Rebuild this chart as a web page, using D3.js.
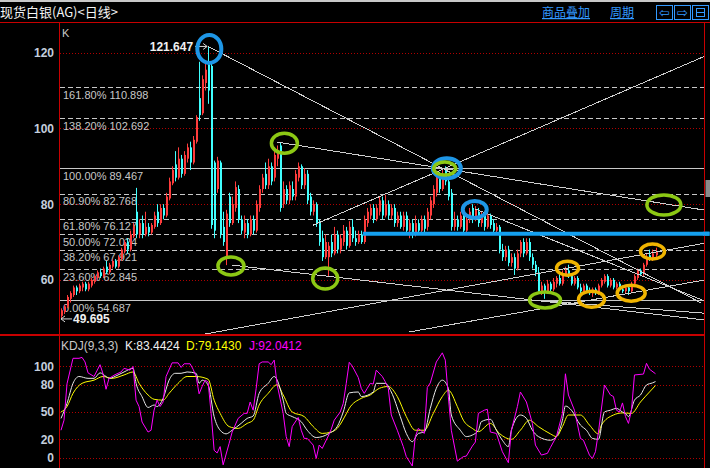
<!DOCTYPE html>
<html>
<head>
<meta charset="utf-8">
<script src="https://cdn.jsdelivr.net/npm/d3@7"></script>
<style>
  body { margin: 0; background: #000; overflow: hidden; }
  svg { display: block; }
</style>
</head>
<body>
<svg id="chart"></svg>
<script>
// daily candles
var opens = [
  50.5, 51.5, 53, 55, 56, 58, 57, 58, 59, 57.5,
  58.5, 59.5, 60.5, 62, 61, 63.5, 62, 63.5, 65, 63.5,
  65.5, 67.5, 70, 68, 71.5, 78, 72, 75, 72, 74,
  72.5, 74, 78, 75, 79, 77, 81.5, 85.5, 90.5, 87,
  92, 88, 92, 95, 91, 96.5, 108, 104, 112, 117,
  116.5, 91, 84, 91, 74, 66, 82, 75, 79, 84,
  76, 72.5, 75, 72, 76, 73, 79, 84, 88, 85,
  90, 87, 92, 95.5, 80, 84, 81, 84, 82, 87,
  90, 85, 88, 82, 78, 80, 75, 71, 66, 66,
  70, 67, 72, 68, 70, 73, 69, 74, 71, 70,
  72, 70, 75, 77, 79, 76, 78, 81, 77, 80,
  77, 79, 75, 77, 74, 77, 73, 75, 72, 75,
  73, 76, 74, 77, 80, 83, 87, 84, 89, 86,
  83, 74, 76, 74, 77, 73, 76, 79, 76, 78,
  75, 77, 74, 77, 75, 73, 74, 68, 66, 68,
  64.5, 66, 63, 67, 70, 67, 70, 66, 64, 62,
  57, 58.5, 57, 59, 57.5, 59, 60.5, 59, 61.5, 62.5,
  61, 59, 60.5, 58, 57, 58.5, 57, 56.5, 57.5, 56.5,
  58.5, 59.5, 61, 58.5, 60, 58, 59, 57.5, 57, 58,
  57, 59, 60.5, 62.5, 61.5, 64, 66.5, 65.5, 66.5
]
var highs = [
  52.5, 53.5, 56, 57, 58.5, 58.5, 59, 59.5, 59.5, 59.5,
  60.5, 61.5, 62.5, 63, 63.5, 65, 64.5, 65.5, 65.5, 66.5,
  68.5, 70.5, 71, 73, 75, 84.3, 76, 77, 78, 75,
  75, 78, 80, 80, 80, 83, 87, 90, 94, 95,
  93, 94, 96, 96.5, 98, 103.5, 117.6, 114, 117, 121.647,
  117, 91.5, 92.5, 91.5, 78, 78.5, 83, 82, 86, 85,
  77, 77, 76, 77, 77, 81, 85, 88, 91, 92,
  91, 95, 95.5, 96.4, 86, 85, 86, 86, 89, 91,
  90.5, 89.5, 89, 83, 81, 80.5, 76, 73, 72, 70,
  72, 74, 73, 72, 74.5, 74, 75.5, 76, 73, 73,
  73, 77, 79, 80, 80, 80, 82, 82, 82.5, 81,
  80, 80, 78, 78, 78, 78, 76, 76, 77, 76,
  77, 77, 79, 82, 85, 88, 88.5, 89.5, 90, 87,
  84, 78, 77, 78, 77.5, 77, 79, 80, 79.5, 79,
  78, 78, 78, 77.5, 76, 75, 74.5, 69.5, 69, 69,
  67, 67, 68, 70.5, 71, 71, 71, 67, 65, 63.4,
  59.5, 59, 60, 59.5, 60.5, 61, 61.5, 62.5, 63.5, 64,
  61.5, 61, 61, 59, 59, 59, 58, 58, 58, 59,
  60.5, 61.5, 61.5, 60.5, 60.5, 59.5, 59.5, 58.5, 58.5, 58.5,
  59.5, 61.5, 63, 63, 64.5, 67, 68, 68, 68.5
]
var lows = [
  49.695, 51, 52.5, 54, 55.5, 56, 56.5, 57, 57, 57,
  58, 59, 60, 60.5, 60.5, 61.5, 61.5, 63, 63, 63,
  65, 67, 67, 67.5, 71, 71, 71, 71, 71.5, 71.5,
  72, 73.5, 74, 74.5, 76, 76.5, 81, 85, 86, 86.5,
  87, 87.5, 91, 89, 90.5, 96, 102, 103.5, 110, 106.5,
  73.5, 71, 83, 71, 69, 63.9, 74, 74.5, 78, 75,
  72, 71, 71, 71.5, 72, 72.5, 78, 83, 84, 84,
  85, 86, 90, 78, 79, 80, 80, 81, 81, 86,
  84, 84, 80, 77, 77, 74, 69, 65, 65.5, 60.8,
  66, 66.5, 67, 67, 69, 68, 68.5, 70, 69, 69.5,
  69.5, 69.5, 74, 76, 75, 75.5, 77, 76, 76.5, 76,
  76, 74, 74, 73.5, 73, 72, 71, 71, 71.5, 72,
  72.5, 72.5, 73, 76, 79, 82, 83, 83.5, 85, 81,
  73, 73, 73, 73.5, 72.5, 72.5, 75, 75, 75.5, 74,
  74, 73, 73.5, 73.5, 72, 72, 67, 65, 65, 63.6,
  63.5, 61.3, 62.5, 66, 66, 66.5, 65, 63, 61, 56.5,
  56, 55, 56.5, 56.5, 57, 58, 58.5, 58.5, 61, 60.5,
  58.5, 58.5, 57.5, 56.5, 56.5, 56.5, 56, 55.5, 56, 56,
  58, 59, 58, 58, 57.5, 57.5, 57, 56.5, 56.5, 56,
  56.5, 58.5, 60, 61, 61, 63.5, 65, 65, 66
]
var closes = [
  52, 53, 55.5, 56.5, 58, 57, 58.5, 59, 57.5, 59,
  60, 61, 62, 61, 63, 62, 64, 65, 63.5, 66,
  68, 70, 68, 72, 74, 72, 75, 72, 74, 72.5,
  74.5, 77, 75, 79, 77, 82, 86, 89, 87, 92,
  88, 93, 95, 91, 97, 103, 103.5, 113, 115.5, 110,
  74.5, 73, 91.5, 72, 70, 77.5, 75, 80, 84.5, 76,
  73, 75, 72, 76, 73, 80, 84, 87, 85, 90,
  86, 93, 94, 79, 84, 81, 85, 82, 88, 90,
  85, 88, 81, 78, 80, 75, 70, 66, 70, 69,
  67, 72, 68, 71, 73, 69, 74, 71, 70, 72,
  70, 76, 78, 79, 76, 79, 81, 77, 80, 77,
  79, 75, 77, 74, 77, 73, 75, 72, 75, 73,
  76, 73.5, 78, 81, 84, 87, 84, 88, 86, 82,
  74, 76, 74, 77, 73, 76, 78, 76, 78.5, 75,
  77, 74, 77, 74.5, 73, 74, 68, 66, 68, 64.5,
  66, 63, 67, 70, 67, 70, 66, 64, 62, 57,
  58.5, 57, 59, 57.5, 59.5, 60.5, 59, 61.5, 62.5, 61,
  59, 60.5, 58, 57, 58.5, 57, 56.5, 57.5, 56.5, 58.5,
  60, 61, 58.5, 60, 58, 59, 57.5, 57, 58, 57,
  59, 61, 62.5, 61.5, 64, 66, 65.5, 67, 67.5
]

var kPoints = [[0,43],[2,59.5],[4,81.5],[6,89],[9,87],[11,87],[13,93],[15,89],[16,87],[19,90.7],
  [21,94],[24,98],[25,81.5],[27,66.8],[29,55],[31,57.7],[32,56],[34,65],[36,85],[38,92.5],
  [40,92.5],[42,94],[45,92.5],[46,81.5],[47,85],[49,79.7],[51,45],[53,30],[55,26],[57,30],
  [60,37.5],[62,43],[64,45.6],[66,70.5],[69,81.5],[71,89],[74,63],[75,48.5],[77,45],[80,39.4],
  [82,30],[85,22],[87,23],[89,26],[92,34],[94,50],[96,71],[99,72],[100,67],[104,72],
  [105,81.5],[108,81.5],[110,72],[113,45],[115,26.5],[117,17.4],[119,26.5],[121,28],[123,54],[125,76],
  [127,85],[129,76],[130,46.7],[133,30],[135,23],[137,24.7],[139,30],[140,39.4],[143,42],[145,30],
  [147,19],[149,12],[150,30],[153,46.7],[155,43],[157,30],[159,23],[163,19],[165,23],[167,41],
  [168,56.6],[170,52],[173,35.7],[175,30],[177,21],[179,20],[181,50],[183,52],[185,54],[187,50],
  [188,48.5],[189,45],[191,63],[193,68.7],[195,79.7],[197,82],[198,83.44]]
var dPoints = [[0,50],[2,56],[4,70.5],[7,81.5],[11,85],[14,89],[17,87],[21,90.7],[24,94],[26,81.5],
  [29,68.7],[31,64],[34,63],[36,70.5],[39,81.5],[42,89],[45,89],[49,86],[51,63],[53,48.5],
  [56,34],[59,32],[62,37.5],[64,41],[66,57.7],[69,70.5],[72,80],[74,68.7],[77,50],[81,45],
  [84,34],[87,26.5],[90,28],[92,32],[95,48],[96,54],[100,65],[103,68.7],[106,76],[109,78],
  [112,67],[115,45],[118,30],[121,30],[124,48.5],[127,67],[129,74],[132,56],[134,41],[137,32],
  [139,28.4],[143,37.5],[146,26.5],[150,20],[153,30],[156,41],[159,34],[163,26],[165,23],[167,34],
  [169,46.7],[173,46.7],[176,35.7],[179,26],[180,35.7],[184,46.7],[187,49],[190,48.5],[193,61],[196,72],
  [198,79.14]]
var jPoints = [[0,30],[1,41],[2,81],[4,109],[6,109],[7,110],[8,105],[9,93],[11,89],[13,102],
  [14,92],[15,75],[16,87],[18,91],[20,94],[21,98],[23,96],[24,100],[25,63],[26,56],
  [27,39],[29,28],[30,30],[31,52],[32,63],[33,56],[34,61],[35,89],[37,104],[39,104],
  [40,99],[41,103],[43,103],[44,97],[45,89],[46,70],[47,78],[48,85],[49,83],[50,48.5],
  [51,8],[52,5],[53,12],[54,-8],[56,15.6],[57,28],[59,43],[61,48.5],[62,48.5],[63,61],
  [64,52],[65,76],[66,103],[67,105],[69,105],[70,102],[71,107],[72,80],[74,48.5],[75,23],
  [76,12],[77,34],[79,44],[80,30],[81,21],[82,21],[84,13.7],[85,-1],[86,13.7],[87,10],
  [89,23.6],[90,31],[91,41],[93,50],[94,59.5],[95,81.5],[96,104.6],[97,100.5],[99,88],[100,76],
  [101,70.5],[102,76],[103,81.5],[104,80.7],[105,96],[107,89],[108,83.3],[109,76],[110,46.7],[112,30],
  [114,12],[115,1],[117,-9.3],[118,23],[119,32],[121,26.5],[122,77],[123,82],[125,105],[127,115],
  [128,107],[129,67],[130,30],[132,-4],[134,1],[135,1.6],[137,12.6],[138,17],[139,48.5],[141,52],
  [142,53],[143,28],[145,26.5],[147,6.4],[149,-5.7],[150,30],[152,56],[153,72],[155,61],[157,37.5],
  [158,13.7],[160,2.7],[162,4.6],[163,11],[165,23],[167,48.5],[168,92],[169,68.7],[171,52],[173,21],
  [174,19],[176,2.7],[177,-1],[178,6.4],[179,28],[181,79.7],[183,68.7],[184,67],[185,52],[186,50],
  [187,60],[188,45],[189,37.5],[190,52],[191,90.7],[194,91.7],[195,103.5],[196,97],[198,92.04]]

// fibonacci levels drawn on the chart
var fibPct = ["161.80%", "138.20%", "100.00%", "80.90%", "61.80%", "50.00%", "38.20%", "23.60%", "0.00%"]
var fibVal = [110.898, 102.692, 89.467, 82.768, 76.127, 72.024, 67.921, 62.845, 54.687]

var priceTicks = [60, 80, 100, 120]
var kdjTicks = [0, 20, 50, 80, 100]

// hand-drawn trend lines: [index1, price1, index2, price2]
var trendLines = [
  [49, 121.647, 213, 54.0],
  [84, 74.46, 214.5, 119.1],
  [72, 96.4, 214.5, 78.4],
  [138, 78.7, 214.5, 54.4],
  [57, 63.9, 214.5, 49.4],
  [48, 45.7, 214.5, 69.7],
  [116, 46.25, 214.5, 60.0],
  [161.4, 54.4, 214.5, 51.2]
]
var blueLevel = [100.5, 72.2, 216]

// marker rings: [index, price]
var blueRings = [[49.4, 121.0], [128.5, 89.5], [137.8, 78.6]]
var greenRings = [[127.8, 89.4], [74.4, 96.1], [56.6, 63.7], [88, 60.35], [161.2, 54.7], [200.8, 79.8]]
var orangeRings = [[168.7, 63.1], [176.7, 54.9], [189.9, 56.5], [197, 67.5]]

var peakVal = 121.647, peakIdx = 49
var lowVal = 49.695, lowIdx = 0

var dimensions = {
  width: 710,
  height: 468,
  left: 60,
  right: 704,
  top: 22,
  mid: 335
}
var blueSize = [[12, 14], [14, 10], [12, 8.5]]
var greenSize = [[11, 6.5], [13, 10], [13, 9], [12.5, 10.5], [15.5, 8], [17, 10]]
var orangeSize = [[11, 7], [13, 8], [14, 8], [12, 7.5]]

var svg = d3.select("#chart")
  .attr("width", dimensions.width)
  .attr("height", dimensions.height)
  .style("font-family", "'Liberation Sans', Arial, sans-serif")

svg.append("rect").attr("width", dimensions.width).attr("height", dimensions.height).attr("fill", "#000")
svg.append("rect").attr("width", dimensions.width).attr("height", 2).attr("fill", "#c8c8c8")

var N = closes.length
var xScale = d3.scaleLinear().domain([0, N - 1]).range([61, 655.5])
var yScale = d3.scaleLinear().domain([45.45, 128.1]).range([dimensions.mid, dimensions.top])
var kScale = d3.scaleLinear().domain([-11.5, 134.6]).range([dimensions.height, dimensions.mid])

var defs = svg.append("defs")
defs.append("clipPath").attr("id", "mainClip").append("rect")
  .attr("x", dimensions.left).attr("y", dimensions.top + 1)
  .attr("width", dimensions.right - dimensions.left).attr("height", dimensions.mid - dimensions.top - 1)
defs.append("clipPath").attr("id", "kdjClip").append("rect")
  .attr("x", dimensions.left).attr("y", dimensions.mid + 1)
  .attr("width", dimensions.right - dimensions.left).attr("height", dimensions.height - dimensions.mid)

// dotted grid
var grid = svg.append("g").attr("stroke", "#b00000").attr("stroke-dasharray", "1,2")
grid.selectAll("line.p").data(priceTicks).join("line")
  .attr("x1", dimensions.left).attr("x2", dimensions.right)
  .attr("y1", d => Math.round(yScale(d)) + 0.5).attr("y2", d => Math.round(yScale(d)) + 0.5)
grid.selectAll("line.k").data(kdjTicks).join("line")
  .attr("x1", dimensions.left).attr("x2", dimensions.right)
  .attr("y1", d => Math.round(kScale(d)) + 0.5).attr("y2", d => Math.round(kScale(d)) + 0.5)

// axes labels
var yAxis = svg.append("g")
  .attr("transform", "translate(57,0)")
  .call(d3.axisLeft(yScale).tickValues(priceTicks).tickSize(0).tickPadding(3))
var kAxis = svg.append("g")
  .attr("transform", "translate(57,0)")
  .call(d3.axisLeft(kScale).tickValues(kdjTicks).tickSize(0).tickPadding(3))
svg.selectAll(".domain").remove()
svg.selectAll(".tick text")
  .attr("fill", "#c4cedc")
  .style("font-size", "12px")
  .style("font-weight", "bold")
  .style("font-family", "'Liberation Sans', Arial, sans-serif")

svg.append("text").attr("x", 62).attr("y", 37).attr("fill", "#c8c8c8")
  .style("font-size", "11px").text("K")

// fib levels
var fib = svg.append("g")
fib.selectAll("line").data(fibVal).join("line")
  .attr("x1", dimensions.left).attr("x2", dimensions.right)
  .attr("y1", d => Math.round(yScale(d)) + 0.5).attr("y2", d => Math.round(yScale(d)) + 0.5)
  .attr("stroke", "#c8c8c8")
  .attr("stroke-dasharray", (d, i) => (fibPct[i] == "100.00%" || fibPct[i] == "0.00%") ? null : "5,3")
fib.selectAll("text").data(fibVal).join("text")
  .attr("x", 63)
  .attr("y", d => yScale(d) + 11.5)
  .attr("fill", "#c8c8c8")
  .style("font-size", "11px")
  .text((d, i) => fibPct[i] + " " + d3.format(".3f")(d))

// candles
var idx = d3.range(N)
var candles = svg.append("g").attr("clip-path", "url(#mainClip)")
var colorOf = i => closes[i] >= opens[i] ? "#ff3c3c" : "#40ffff"
candles.selectAll("line").data(idx).join("line")
  .attr("x1", i => Math.round(xScale(i)) + 0.5)
  .attr("x2", i => Math.round(xScale(i)) + 0.5)
  .attr("y1", i => yScale(highs[i]))
  .attr("y2", i => yScale(lows[i]))
  .attr("stroke", colorOf)
  .attr("stroke-width", 1)
candles.selectAll("rect").data(idx).join("rect")
  .attr("x", i => Math.round(xScale(i)))
  .attr("width", 2)
  .attr("y", i => yScale(Math.max(opens[i], closes[i])))
  .attr("height", i => Math.max(1, Math.abs(yScale(opens[i]) - yScale(closes[i]))))
  .attr("fill", colorOf)

// trend lines
var trends = svg.append("g").attr("clip-path", "url(#mainClip)")
trends.selectAll("line").data(trendLines).join("line")
  .attr("x1", d => xScale(d[0])).attr("y1", d => yScale(d[1]))
  .attr("x2", d => xScale(d[2])).attr("y2", d => yScale(d[3]))
  .attr("stroke", "#cfcfcf")
  .attr("stroke-width", 1)
  .attr("shape-rendering", "crispEdges")

// peak and low labels with arrows
var px = xScale(peakIdx), py = yScale(peakVal)
svg.append("path")
  .attr("d", `M${px - 13},${py} L${px - 1},${py} M${px - 5},${py - 3} L${px - 1},${py} L${px - 5},${py + 3}`)
  .attr("stroke", "#d8d8d8").attr("fill", "none")
svg.append("text").attr("x", px - 15).attr("y", py + 5).attr("text-anchor", "end")
  .attr("fill", "#f0f0f0").style("font-size", "12px").style("font-weight", "bold")
  .text(d3.format(".3f")(peakVal))
var lx = xScale(lowIdx), ly = yScale(lowVal)
svg.append("path")
  .attr("d", `M${lx + 11},${ly} L${lx},${ly} M${lx + 4},${ly - 3} L${lx},${ly} L${lx + 4},${ly + 3}`)
  .attr("stroke", "#d8d8d8").attr("fill", "none")
svg.append("text").attr("x", lx + 12).attr("y", ly + 4.5)
  .attr("fill", "#f0f0f0").style("font-size", "12px").style("font-weight", "bold")
  .text(d3.format(".3f")(lowVal))

// blue horizontal level
svg.append("line")
  .attr("x1", xScale(blueLevel[0])).attr("x2", xScale(blueLevel[2]))
  .attr("y1", yScale(blueLevel[1])).attr("y2", yScale(blueLevel[1]))
  .attr("stroke", "#14a0f0").attr("stroke-width", 4)

// marker rings
function rings(data, sizes, color, w) {
  svg.append("g").selectAll("ellipse").data(data).join("ellipse")
    .attr("cx", d => xScale(d[0])).attr("cy", d => yScale(d[1]))
    .attr("rx", (d, i) => sizes[i][0]).attr("ry", (d, i) => sizes[i][1])
    .attr("fill", "none").attr("stroke", color).attr("stroke-width", w)
}
rings(blueRings, blueSize, "#1e96e6", 4)
rings(greenRings, greenSize, "#8cc814", 3.5)
rings(orangeRings, orangeSize, "#f0b400", 3.5)

// KDJ pane
var kdj = svg.append("g").attr("clip-path", "url(#kdjClip)")
var smooth = d3.line().x(d => xScale(d[0])).y(d => kScale(d[1])).curve(d3.curveMonotoneX)
var sharp = d3.line().x(d => xScale(d[0])).y(d => kScale(d[1]))
kdj.append("path").attr("d", smooth(dPoints)).attr("stroke", "#ffff00").attr("fill", "none")
kdj.append("path").attr("d", smooth(kPoints)).attr("stroke", "#e8e8e8").attr("fill", "none")
kdj.append("path").attr("d", sharp(jPoints)).attr("stroke", "#ff00ff").attr("fill", "none")

var kdjTitle = [
  ["KDJ(9,3,3)", "#c8c8c8", 61],
  ["K:83.4424", "#f0f0f0", 125],
  ["D:79.1430", "#ffff00", 186],
  ["J:92.0412", "#ff00ff", 249]
]
svg.append("g").selectAll("text").data(kdjTitle).join("text")
  .attr("x", d => d[2]).attr("y", 349.5)
  .attr("fill", d => d[1])
  .style("font-size", "12px")
  .text(d => d[0])

// frame
var frame = svg.append("g").attr("stroke", "#c80000").attr("shape-rendering", "crispEdges")
frame.append("line").attr("x1", 0).attr("x2", dimensions.width).attr("y1", 22.5).attr("y2", 22.5)
frame.append("line").attr("x1", 59.5).attr("x2", 59.5).attr("y1", 22).attr("y2", dimensions.height)
frame.append("line").attr("x1", 0).attr("x2", dimensions.right).attr("y1", 335).attr("y2", 335).attr("stroke-width", 2)
frame.append("line").attr("x1", 704.5).attr("x2", 704.5).attr("y1", 22).attr("y2", dimensions.height)
svg.append("rect").attr("x", 705.5).attr("y", 180).attr("width", 4.5).attr("height", 17).attr("fill", "#8a8a8a")
// blue level runs over the right border
svg.append("line")
  .attr("x1", 703).attr("x2", xScale(blueLevel[2]))
  .attr("y1", yScale(blueLevel[1])).attr("y2", yScale(blueLevel[1]))
  .attr("stroke", "#14a0f0").attr("stroke-width", 4)

// header
svg.append("text").attr("x", 0).attr("y", 17)
  .attr("fill", "#f4f4f4")
  .style("font-family", "'Noto Sans CJK SC', sans-serif").style("font-size", "13px")
  .text("现货白银(AG)<日线>")
var links = [["商品叠加", 542], ["周期", 610]]
svg.append("g").selectAll("text").data(links).join("text")
  .attr("x", d => d[1]).attr("y", 17)
  .attr("fill", "#3399ff")
  .attr("text-decoration", "underline")
  .style("font-family", "'Noto Sans CJK SC', sans-serif").style("font-size", "12px")
  .text(d => d[0])
var icons = [["⇦", 656], ["⇨", 674], ["", 692]]
var ic = svg.append("g").selectAll("g").data(icons).join("g")
ic.append("rect").attr("x", d => d[1] + 0.5).attr("y", 5.5).attr("width", 16).attr("height", 14)
  .attr("fill", "none").attr("stroke", "#3399ff")
ic.append("text").attr("x", d => d[1] + 8.5).attr("y", 17).attr("text-anchor", "middle")
  .attr("fill", "#3399ff").style("font-family", "'DejaVu Sans', sans-serif").style("font-size", "13px")
  .text(d => d[0])
svg.append("rect").attr("x", 696.5).attr("y", 8.5).attr("width", 8).attr("height", 8)
  .attr("fill", "none").attr("stroke", "#3399ff")
svg.append("line").attr("x1", 696).attr("x2", 705).attr("y1", 12.5).attr("y2", 12.5).attr("stroke", "#3399ff")
</script>
</body>
</html>
